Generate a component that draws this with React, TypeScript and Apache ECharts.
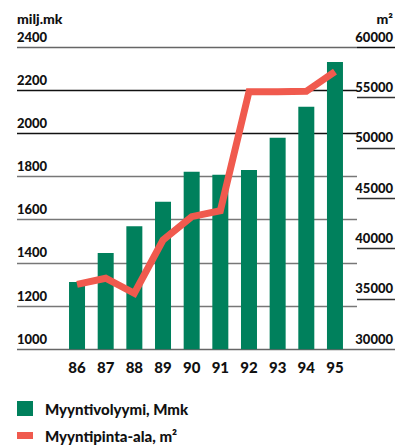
import React, { useEffect, useRef } from "react";
import * as echarts from "echarts";

const years = ["86", "87", "88", "89", "90", "91", "92", "93", "94", "95"];
const salesVolume = [1312, 1446, 1570, 1683, 1822, 1808, 1830, 1980, 2123, 2330];
const salesArea = [36450, 37050, 35560, 40850, 43160, 43750, 55560, 55550, 55600, 57550];
const leftTicks = { min: 1000, max: 2400, interval: 200 };
const rightTicks = { min: 30000, max: 60000, interval: 5000 };
const barName = "Myyntivolyymi, Mmk";
const lineName = "Myyntipinta-ala, m²";

const FONT = "Lato, 'Open Sans', sans-serif";
const GREEN = "#00805c";
const RED = "#f05a4e";

export default function App() {
  const ref = useRef<HTMLDivElement>(null);
  useEffect(() => {
    document.body.style.margin = "0";
    if (!ref.current) return;
    const chart = echarts.init(ref.current, null, { renderer: "svg" });
    const gTop = 47;
    const gBottom = 98.7;
    chart.setOption({
      animation: false,
      textStyle: { fontFamily: FONT },
      grid: [
        { left: 17, right: 46, top: gTop, bottom: gBottom },
        { left: 357, right: 8, top: gTop, bottom: gBottom },
        { left: 62.7, right: 53.7, top: gTop, bottom: gBottom },
      ],
      xAxis: [
        { gridIndex: 0, type: "value", show: false, min: 0, max: 1 },
        { gridIndex: 1, type: "value", show: false, min: 0, max: 1 },
        {
          gridIndex: 2,
          type: "category",
          data: years,
          axisLine: { show: false },
          axisTick: { show: false },
          axisLabel: {
            margin: 10,
            fontSize: 15,
            fontWeight: 900,
            color: "#111",
            fontFamily: FONT,
          },
        },
      ],
      yAxis: [
        {
          gridIndex: 0,
          type: "value",
          ...leftTicks,
          axisLine: { show: false },
          axisTick: { show: false },
          splitLine: {
            show: true,
            lineStyle: {
              color: ["#666", "#777", "#777", "#777", "#777", "#111", "#111"],
              width: 1.3,
            },
          },
          axisLabel: {
            inside: true,
            margin: 0,
            align: "left",
            verticalAlign: "bottom",
            padding: [0, 0, 4, 0],
            fontSize: 13,
            fontWeight: 900,
            color: "#111",
            fontFamily: FONT,
            formatter: (v: number) => String(v),
          },
        },
        {
          gridIndex: 1,
          type: "value",
          position: "right",
          ...rightTicks,
          axisLine: { show: false },
          axisTick: { show: false },
          splitLine: {
            show: true,
            lineStyle: {
              color: ["#666", "#333", "#333", "#333", "#333", "#333", "#111"],
              width: 1.3,
            },
          },
          axisLabel: {
            inside: true,
            margin: 2,
            align: "right",
            verticalAlign: "bottom",
            padding: [0, 0, 4, 0],
            fontSize: 13,
            fontWeight: 900,
            color: "#111",
            fontFamily: FONT,
            formatter: (v: number) => String(v),
          },
        },
        { gridIndex: 2, type: "value", ...leftTicks, show: false, splitLine: { show: false } },
        {
          gridIndex: 2,
          type: "value",
          position: "right",
          ...rightTicks,
          show: false,
          splitLine: { show: false },
        },
      ],
      legend: [
        {
          left: 17,
          top: 401,
          padding: 0,
          icon: "rect",
          itemWidth: 16,
          itemHeight: 15,
          data: [barName],
          textStyle: {
            fontSize: 15,
            fontWeight: 900,
            color: "#111",
            fontFamily: FONT,
            padding: [0, 0, 0, 7],
          },
        },
        {
          left: 17,
          top: 428,
          padding: 0,
          icon: "rect",
          itemWidth: 16,
          itemHeight: 7,
          data: [{ name: lineName, itemStyle: { color: RED } }],
          textStyle: {
            fontSize: 15,
            fontWeight: 900,
            color: "#111",
            fontFamily: FONT,
            padding: [5, 0, 0, 7],
          },
        },
      ],
      graphic: [
        {
          type: "text",
          left: 17,
          top: 11,
          style: { text: "milj.mk", font: `900 14px ${FONT}`, fill: "#111" },
        },
        {
          type: "text",
          right: 10,
          top: 11,
          style: { text: "m²", font: `900 14px ${FONT}`, fill: "#111" },
        },
      ],
      series: [
        {
          name: barName,
          type: "bar",
          xAxisIndex: 2,
          yAxisIndex: 2,
          data: salesVolume,
          barWidth: 16,
          itemStyle: { color: GREEN },
        },
        {
          name: lineName,
          type: "line",
          xAxisIndex: 2,
          yAxisIndex: 3,
          data: salesArea,
          symbol: "none",
          lineStyle: { color: RED, width: 7, cap: "butt", join: "miter" },
          itemStyle: { color: RED },
          z: 5,
        },
      ],
    });
    return () => chart.dispose();
  }, []);
  return <div ref={ref} style={{ width: 403, height: 448 }} />;
}
